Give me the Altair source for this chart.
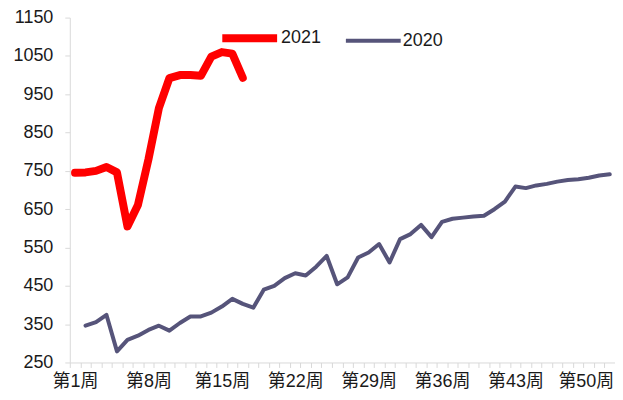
import altair as alt
import pandas as pd

weeks_2021 = list(range(1, 18))
values_2021 = [745, 746, 750, 760, 746, 605, 661, 780, 914, 992, 1000, 1000, 998, 1048, 1060, 1056, 993]

weeks_2020 = list(range(2, 53))
values_2020 = [346, 355, 374, 279, 309, 320, 335, 346, 333, 353, 370, 370, 380, 396, 416, 403,
               393, 440, 450, 470, 483, 477, 500, 528, 454, 472, 524, 537, 559, 511, 572, 585,
               609, 577, 617, 625, 628, 631, 633, 650, 670, 709, 705, 712, 716, 722, 726, 728,
               732, 738, 741]

series_names = ["2021", "2020"]
series_colors = ["#ff0000", "#56547a"]
series_widths = [8, 4]
y_ticks = [250, 350, 450, 550, 650, 750, 850, 950, 1050, 1150]
all_weeks = list(range(1, 53))

rows = [{"week": w, "value": v, "series": "2021"} for w, v in zip(weeks_2021, values_2021)]
rows += [{"week": w, "value": v, "series": "2020"} for w, v in zip(weeks_2020, values_2020)]
df = pd.DataFrame(rows)

FONT = "Liberation Sans, Arial, Noto Sans CJK SC"

legend_opts = dict(title=None, orient="none", legendX=149, legendY=-11,
                   direction="horizontal", symbolType="stroke",
                   symbolSize=3025, labelFontSize=18, labelFont=FONT,
                   labelColor="#1a1a1a", labelOffset=0, columnPadding=16,
                   padding=0)

chart = alt.Chart(df).mark_line(strokeCap="round", strokeJoin="round").encode(
    x=alt.X("week:O", bandPosition=0.5,
            scale=alt.Scale(type="band", domain=all_weeks, paddingInner=0, paddingOuter=0),
            axis=alt.Axis(title=None, labelAngle=0, tickBand="extent",
                          labelExpr="(datum.value - 1) % 7 == 0 ? '第' + datum.value + '周' : ''",
                          labelOffset={"condition": {"test": "datum.value == 50", "value": -3}, "value": 0},
                          domainColor="#d9d9d9", tickColor="#d9d9d9", tickSize=5,
                          labelPadding=5, labelBaseline="top", labelFontSize=18,
                          labelColor="#1a1a1a", labelFont=FONT, labelOverlap=False)),
    y=alt.Y("value:Q",
            scale=alt.Scale(domain=[250, 1150], nice=False, zero=False),
            axis=alt.Axis(title=None, values=y_ticks, grid=False, format="d",
                          domainColor="#d9d9d9", tickColor="#d9d9d9", tickSize=5,
                          labelPadding=12, labelFontSize=18, labelColor="#1a1a1a",
                          labelFont=FONT)),
    color=alt.Color("series:N",
                    scale=alt.Scale(domain=series_names, range=series_colors),
                    legend=alt.Legend(**legend_opts)),
    strokeWidth=alt.StrokeWidth("series:N",
                                scale=alt.Scale(domain=series_names, range=series_widths),
                                legend=alt.Legend(**legend_opts)),
    order=alt.Order("week:Q"),
).properties(
    width=547, height=346,
    autosize=alt.AutoSizeParams(type="none"),
    padding={"left": 62, "top": 9, "right": 0, "bottom": 29},
).configure_view(stroke=None)

chart.save("out.html", embed_options={"renderer": "svg", "actions": False})
